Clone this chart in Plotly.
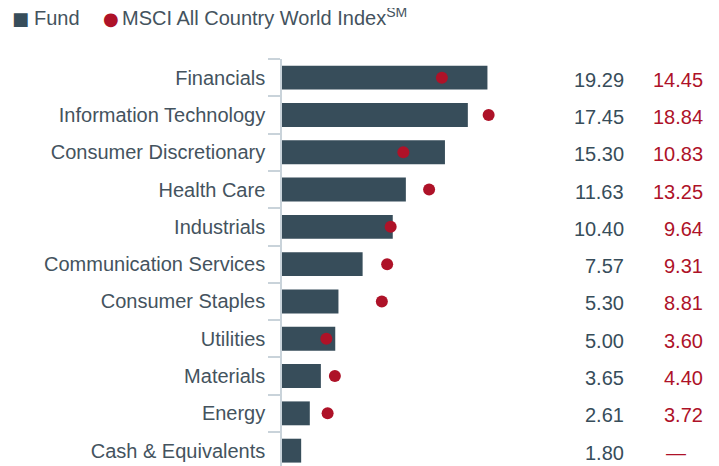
import plotly.graph_objects as go

categories = ["Financials", "Information Technology", "Consumer Discretionary", "Health Care",
              "Industrials", "Communication Services", "Consumer Staples", "Utilities",
              "Materials", "Energy", "Cash & Equivalents"]
fund = [19.29, 17.45, 15.30, 11.63, 10.40, 7.57, 5.30, 5.00, 3.65, 2.61, 1.80]
index = [14.45, 18.84, 10.83, 13.25, 9.64, 9.31, 8.81, 3.60, 4.40, 3.72, None]
series_names = ["Fund", "MSCI All Country World Index<sup>SM</sup>"]

BAR = "#374d5a"
RED = "#ae1228"
TXT = "#44535e"
FONT = "Liberation Sans, Arial, sans-serif"

# page has an 8px body margin; figure is offset by it
OFF = 8
PAGE_W, PAGE_H = 719, 466
W, H = PAGE_W - OFF, PAGE_H - OFF
AXIS_X, PLOT_TOP = 282, 59          # page pixel positions
ML, MT = AXIS_X - OFF, PLOT_TOP - OFF
plot_w = W - ML
plot_h = H - MT
px_per_unit = 10.65
xmax = plot_w / px_per_unit
shift = 6 / px_per_unit  # dots sit with left edge at value


def px_x(page_x):
    return (page_x - AXIS_X) / plot_w


def px_y(page_y):
    return 1 + (PLOT_TOP - page_y) / plot_h


fig = go.Figure()
fig.add_trace(go.Bar(
    x=fund, y=categories, orientation="h", name=series_names[0],
    marker=dict(color=BAR, line=dict(width=0)), width=0.64, showlegend=False,
))
fig.add_trace(go.Scatter(
    x=index, y=categories, mode="markers", name=series_names[1],
    marker=dict(color=RED, size=12, line=dict(width=0)),
    xaxis="x2", showlegend=False,
))

annotations = []
for c, f, i in zip(categories, fund, index):
    annotations.append(dict(x=px_x(626), xref="paper", y=c, yref="y", yshift=-2,
                            text=f"{f:.2f}", showarrow=False, xanchor="right",
                            font=dict(size=20, color=BAR, family=FONT)))
    if i is None:
        annotations.append(dict(x=px_x(676), xref="paper", y=c, yref="y", yshift=-2,
                                text="—", showarrow=False, xanchor="center",
                                font=dict(size=20, color=RED, family=FONT)))
    else:
        annotations.append(dict(x=px_x(705), xref="paper", y=c, yref="y", yshift=-2,
                                text=f"{i:.2f}", showarrow=False, xanchor="right",
                                font=dict(size=20, color=RED, family=FONT)))

# legend built from text
leg_y = px_y(18)
base_y = px_y(31)
annotations += [
    dict(x=px_x(20.5), y=leg_y, xref="paper", yref="paper", text="■", showarrow=False,
         xanchor="center", yanchor="middle", font=dict(size=18, color=BAR, family="DejaVu Sans")),
    dict(x=px_x(31.5), y=base_y, xref="paper", yref="paper", text=series_names[0], showarrow=False,
         xanchor="left", yanchor="bottom", font=dict(size=20, color=TXT, family=FONT)),
    dict(x=px_x(111), y=leg_y, xref="paper", yref="paper", text="●", showarrow=False,
         xanchor="center", yanchor="middle", font=dict(size=18, color=RED, family="DejaVu Sans")),
    dict(x=px_x(120), y=base_y, xref="paper", yref="paper", text=series_names[1], showarrow=False,
         xanchor="left", yanchor="bottom", font=dict(size=20, color=TXT, family=FONT)),
]

row_px = 37.3
ybottom = -0.5 + plot_h / row_px

fig.update_layout(
    width=W, height=H,
    margin=dict(l=ML, r=0, t=MT, b=0, pad=0, autoexpand=False),
    plot_bgcolor="white", paper_bgcolor="white",
    font=dict(family=FONT, size=20, color=TXT),
    showlegend=False,
    xaxis=dict(range=[0, xmax], visible=False, fixedrange=True),
    xaxis2=dict(range=[-shift, xmax - shift], overlaying="x", visible=False, fixedrange=True),
    yaxis=dict(type="category", categoryorder="array", categoryarray=categories,
               range=[ybottom, -0.5], showline=True, linecolor="#c9d3da", linewidth=1.5,
               ticks="outside", tickson="boundaries", ticklen=12, tickcolor="#c9d3da",
               tickwidth=1.5, showgrid=False, zeroline=False, automargin=False,
               ticklabelstandoff=11,
               tickfont=dict(size=20, color=TXT, family=FONT), fixedrange=True),
    annotations=annotations,
)

fig.write_html("out.html")
